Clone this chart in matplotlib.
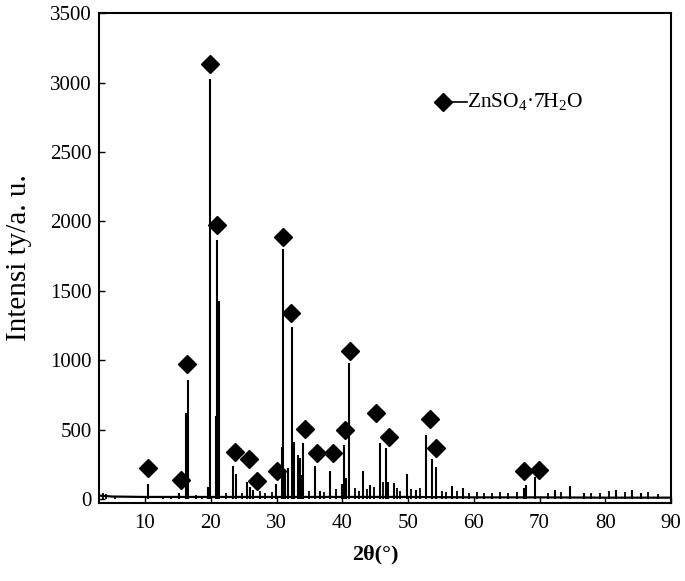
import matplotlib
matplotlib.use("Agg")
import matplotlib.pyplot as plt
import numpy as np

plt.rcParams['font.family'] = ['Liberation Serif', 'DejaVu Serif']
plt.rcParams['mathtext.fontset'] = 'custom'
plt.rcParams['mathtext.rm'] = 'Liberation Serif'
plt.rcParams['mathtext.it'] = 'Liberation Serif:italic'
plt.rcParams['mathtext.bf'] = 'Liberation Serif:bold'

# ---- data ----
# strong / medium diffraction peaks (2theta in degrees, intensity)
peak_2theta = [10.45, 15.2, 16.3, 16.5, 19.6, 19.95, 20.8, 21.0, 21.3, 23.4, 23.9,
               25.5, 25.9, 26.4, 29.9, 30.8, 31.0, 31.3, 31.7, 32.3, 32.7, 33.3,
               33.5, 33.7, 34.0, 35.9, 36.6, 38.2, 39.9, 40.3, 40.5, 41.1, 43.2,
               44.2, 45.8, 46.6, 47.0, 47.8, 49.9, 51.2, 52.8, 53.6, 54.3, 56.7,
               58.4, 67.6, 67.9, 69.3, 72.3, 74.6, 76.7, 81.6, 84.0, 85.5]
peak_intensity = [110, 45, 620, 860, 90, 3030, 600, 1865, 1430, 240, 180,
                  125, 90, 65, 110, 375, 1805, 190, 223, 1240, 410, 317,
                  295, 175, 403, 240, 60, 202, 110, 389, 150, 980, 204,
                  101, 403, 367, 125, 115, 180, 65, 461, 288, 230, 94,
                  79, 80, 101, 158, 65, 94, 43, 65, 65, 43]

# minor spikes of the noisy background
minor_2theta = [3.6, 4.0, 5.5, 12.7, 14.0, 17.8, 18.6, 22.3, 24.7, 27.5, 28.3, 29.3,
                35.0, 37.2, 39.0, 42.0, 42.6, 43.8, 44.8, 46.2, 48.3, 48.8, 50.5,
                51.8, 55.2, 55.8, 57.5, 59.3, 60.5, 61.5, 62.8, 64.0, 65.2, 66.5,
                71.3, 73.2, 77.8, 79.2, 80.6, 83.0, 86.5, 88.0]
minor_intensity = [40, 35, 22, 18, 22, 30, 25, 40, 45, 55, 45, 50,
                   60, 50, 70, 80, 60, 75, 90, 120, 80, 60, 70,
                   80, 60, 50, 60, 40, 50, 40, 45, 50, 40, 50,
                   45, 50, 40, 45, 55, 50, 50, 35]

# background level
bg_2theta = [3, 5, 10, 20, 30, 40, 50, 60, 70, 80, 90]
bg_intensity = [25, 18, 15, 15, 15, 15, 15, 12, 12, 10, 10]

# ZnSO4·7H2O phase markers
marker_2theta = [10.5, 15.4, 16.45, 19.9, 20.93, 23.65, 25.78, 27.05, 30.07, 31.02,
                 32.26, 34.3, 36.2, 38.55, 40.45, 41.2, 45.17, 47.1, 53.3, 54.33,
                 67.65, 69.98]
marker_intensity = [224, 140, 972, 3135, 1973, 340, 285, 128, 202, 1888,
                    1342, 507, 331, 331, 497, 1068, 623, 447, 577, 366,
                    204, 212]

xticks = [10, 20, 30, 40, 50, 60, 70, 80, 90]
yticks = [0, 500, 1000, 1500, 2000, 2500, 3000, 3500]

fig = plt.figure(figsize=(6.85, 5.81), dpi=100)
ax = fig.add_axes([0.1445, 0.1351, 0.8351, 0.842])

ax.plot(bg_2theta, bg_intensity, color='black', lw=1.6, zorder=2)
ax.vlines(minor_2theta, 0, minor_intensity, color='black', lw=1.3, zorder=2)
ax.vlines(peak_2theta, 0, peak_intensity, color='black', lw=1.5, zorder=3)
ax.plot(marker_2theta, marker_intensity, linestyle='none', marker='D',
        markersize=9.5, color='black', zorder=4)

ax.set_xlim(3, 90)
ax.set_ylim(-25, 3500)
ax.set_xticks(xticks)
ax.set_yticks(yticks)
ax.tick_params(axis='both', direction='in', labelsize=15, length=4, width=1)
ax.tick_params(axis='x', pad=8)
ax.tick_params(axis='y', pad=5)
for s in ax.spines.values():
    s.set_linewidth(1.5)

ax.set_ylabel('Intensi ty/a. u.', fontsize=21)
ax.yaxis.set_label_coords(-0.117, 0.5)
ax.set_xlabel(r'2θ(°)', fontsize=16, fontweight='bold')
ax.xaxis.set_label_coords(0.483, -0.085)

# legend drawn in axes coordinates
ax.plot([0.601], [0.819], marker='D', markersize=9.5, color='black',
        transform=ax.transAxes, clip_on=False)
ax.plot([0.601, 0.643], [0.819, 0.819], color='black', lw=1.2,
        transform=ax.transAxes)
ax.text(0.643, 0.819, r'ZnSO$_4$·7H$_2$O', fontsize=15.5, va='center', ha='left',
        transform=ax.transAxes)

fig.savefig('out.png', dpi=100)
